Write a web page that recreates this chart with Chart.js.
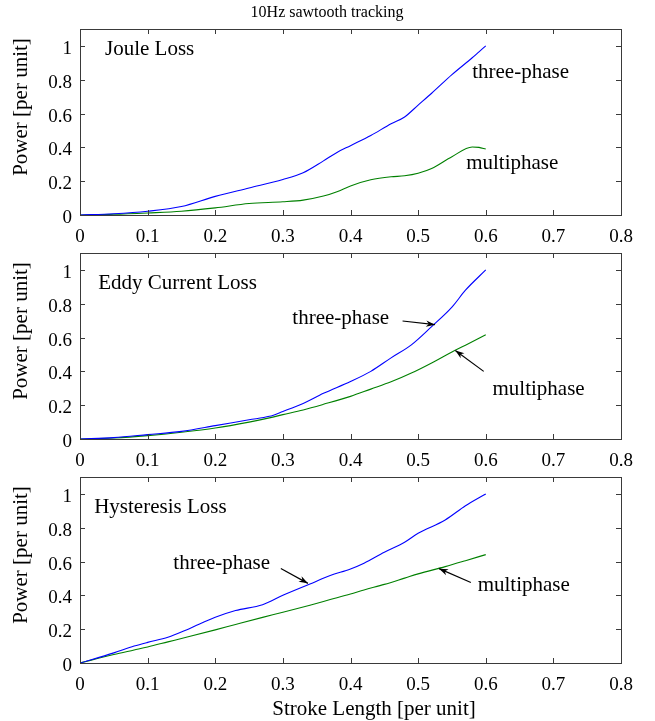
<!DOCTYPE html>
<html><head><meta charset="utf-8">
<script src="https://cdn.jsdelivr.net/npm/chart.js@4.4.1/dist/chart.umd.min.js"></script>
<style>
html,body{margin:0;padding:0;background:#fff;}
#wrap{position:relative;width:655px;height:721px;background:#fff;}
canvas{position:absolute;left:0;top:0;width:655px;height:721px;}
</style></head><body>
<div id="wrap">
<canvas id="c1" width="655" height="721"></canvas>
<canvas id="c2" width="655" height="721"></canvas>
<canvas id="c3" width="655" height="721"></canvas>
</div>
<script>
// ---------- data ----------
const xTicks = [0, 0.1, 0.2, 0.3, 0.4, 0.5, 0.6, 0.7, 0.8];
const yTicks = [0, 0.2, 0.4, 0.6, 0.8, 1];

const jouleX     = [0, 0.05, 0.1, 0.15, 0.2, 0.25, 0.3, 0.33, 0.36, 0.38, 0.4, 0.43, 0.46, 0.48, 0.5, 0.52, 0.55, 0.58, 0.59, 0.6];
const jouleThree = [0, 0.007, 0.022, 0.05, 0.11, 0.16, 0.21, 0.25, 0.32, 0.37, 0.41, 0.47, 0.54, 0.58, 0.65, 0.72, 0.83, 0.93, 0.965, 1.0];
const jouleMulti = [0, 0.004, 0.012, 0.022, 0.042, 0.068, 0.078, 0.088, 0.112, 0.138, 0.172, 0.208, 0.226, 0.232, 0.247, 0.275, 0.345, 0.402, 0.4, 0.39];

const eddyX      = [0, 0.05, 0.1, 0.15, 0.2, 0.25, 0.28, 0.3, 0.33, 0.36, 0.4, 0.43, 0.46, 0.49, 0.52, 0.55, 0.57, 0.6];
const eddyThree  = [0, 0.008, 0.026, 0.045, 0.079, 0.114, 0.134, 0.163, 0.21, 0.27, 0.34, 0.40, 0.48, 0.557, 0.665, 0.78, 0.88, 1.0];
const eddyMulti  = [0, 0.006, 0.02, 0.04, 0.065, 0.1, 0.125, 0.144, 0.172, 0.205, 0.252, 0.295, 0.338, 0.39, 0.45, 0.515, 0.555, 0.616];

const hystX      = [0, 0.05, 0.08, 0.1, 0.13, 0.16, 0.2, 0.23, 0.27, 0.3, 0.34, 0.37, 0.4, 0.42, 0.45, 0.48, 0.5, 0.54, 0.57, 0.6];
const hystThree  = [0, 0.06, 0.10, 0.122, 0.152, 0.20, 0.27, 0.31, 0.345, 0.40, 0.467, 0.517, 0.556, 0.59, 0.655, 0.714, 0.767, 0.846, 0.93, 1.0];
const hystMulti  = [0, 0.05, 0.077, 0.095, 0.125, 0.155, 0.196, 0.228, 0.27, 0.30, 0.342, 0.375, 0.408, 0.432, 0.465, 0.502, 0.527, 0.57, 0.605, 0.641];

const seriesNames = ['three-phase', 'multiphase'];
const panelNames = ['Joule Loss', 'Eddy Current Loss', 'Hysteresis Loss'];
const titleText = '10Hz sawtooth tracking';
const xLabel = 'Stroke Length [per unit]';
const yLabel = 'Power [per unit]';

// ---------- styling / layout ----------
const SERIF = "'Liberation Serif', 'Times New Roman', serif";
const W = 655, H = 721;
const PLOT_LEFT = 80, PLOT_RIGHT = 621;

const panels = [
  { id: 'c1', top: 29,  bottom: 215, x: jouleX, three: jouleThree, multi: jouleMulti, name: panelNames[0], nameAt: [0.037, 0.98],
    notes: [ { text: seriesNames[0], at: [0.58, 0.84] },
             { text: seriesNames[1], at: [0.571, 0.306] } ], title: true },
  { id: 'c2', top: 253, bottom: 439, x: eddyX, three: eddyThree, multi: eddyMulti, name: panelNames[1], nameAt: [0.027, 0.918],
    notes: [ { text: seriesNames[0], at: [0.314, 0.71], from: [0.477, 0.698], to: [0.525, 0.676] },
             { text: seriesNames[1], at: [0.61, 0.29], from: [0.597, 0.4], to: [0.555, 0.524] } ] },
  { id: 'c3', top: 477, bottom: 663, x: hystX, three: hystThree, multi: hystMulti, name: panelNames[2], nameAt: [0.021, 0.918],
    notes: [ { text: seriesNames[0], at: [0.138, 0.588], from: [0.297, 0.559], to: [0.337, 0.471] },
             { text: seriesNames[1], at: [0.588, 0.459], from: [0.578, 0.476], to: [0.531, 0.558] } ], xlabel: true }
];

function arrow(ctx, x1, y1, x2, y2) {
  ctx.beginPath(); ctx.moveTo(x1, y1); ctx.lineTo(x2, y2); ctx.stroke();
  const ang = Math.atan2(y2 - y1, x2 - x1), L = 9, Wd = 3.2;
  ctx.beginPath();
  ctx.moveTo(x2, y2);
  ctx.lineTo(x2 - L * Math.cos(ang) + Wd * Math.sin(ang), y2 - L * Math.sin(ang) - Wd * Math.cos(ang));
  ctx.lineTo(x2 - L * 0.7 * Math.cos(ang), y2 - L * 0.7 * Math.sin(ang));
  ctx.lineTo(x2 - L * Math.cos(ang) - Wd * Math.sin(ang), y2 - L * Math.sin(ang) + Wd * Math.cos(ang));
  ctx.closePath(); ctx.fill();
}

const framePlugin = {
  id: 'frame',
  afterDatasetsDraw(chart, args, o) {
    const p = o.panel; if (!p) return;
    const { ctx, chartArea: a, scales: { x, y } } = chart;
    ctx.save();
    ctx.strokeStyle = '#3a3a3a'; ctx.lineWidth = 1;
    ctx.strokeRect(Math.round(a.left) + 0.5, Math.round(a.top) + 0.5, Math.round(a.right - a.left), Math.round(a.bottom - a.top));
    const TL = 5;
    ctx.beginPath();
    x.ticks.forEach(t => {
      const px = Math.round(x.getPixelForValue(t.value)) + 0.5;
      ctx.moveTo(px, a.bottom); ctx.lineTo(px, a.bottom - TL);
      ctx.moveTo(px, a.top); ctx.lineTo(px, a.top + TL);
    });
    y.ticks.forEach(t => {
      const py = Math.round(y.getPixelForValue(t.value)) + 0.5;
      ctx.moveTo(a.left, py); ctx.lineTo(a.left + TL, py);
      ctx.moveTo(a.right, py); ctx.lineTo(a.right - TL, py);
    });
    ctx.stroke();

    ctx.fillStyle = '#000'; ctx.strokeStyle = '#000';
    ctx.textBaseline = 'middle'; ctx.textAlign = 'left';
    ctx.font = '21px ' + SERIF;
    ctx.fillText(p.name, x.getPixelForValue(p.nameAt[0]), y.getPixelForValue(p.nameAt[1]));
    p.notes.forEach(n => {
      ctx.fillText(n.text, x.getPixelForValue(n.at[0]), y.getPixelForValue(n.at[1]));
      if (n.from) {
        ctx.lineWidth = 1.2;
        arrow(ctx, x.getPixelForValue(n.from[0]), y.getPixelForValue(n.from[1]),
                   x.getPixelForValue(n.to[0]), y.getPixelForValue(n.to[1]));
      }
    });
    // axis titles
    ctx.save();
    ctx.translate(21, (a.top + a.bottom) / 2 - 15);
    ctx.rotate(-Math.PI / 2);
    ctx.textAlign = 'center';
    ctx.font = '21px ' + SERIF;
    ctx.fillText(yLabel, 0, 0);
    ctx.restore();
    if (p.title) {
      ctx.textAlign = 'center'; ctx.font = '16px ' + SERIF;
      ctx.fillText(titleText, 327, 13);
    }
    if (p.xlabel) {
      ctx.textAlign = 'center'; ctx.font = '21px ' + SERIF;
      ctx.fillText(xLabel, 374, 709);
    }
    ctx.restore();
  }
};

panels.forEach(p => {
  const toPts = ys => p.x.map((xv, i) => ({ x: xv, y: ys[i] }));
  new Chart(document.getElementById(p.id), {
    type: 'line',
    data: {
      datasets: [
        { label: seriesNames[0], data: toPts(p.three), borderColor: '#0000ff', borderWidth: 1.1, pointRadius: 0, tension: 0.3, cubicInterpolationMode: 'monotone', fill: false },
        { label: seriesNames[1], data: toPts(p.multi), borderColor: '#008000', borderWidth: 1.1, pointRadius: 0, tension: 0.3, cubicInterpolationMode: 'monotone', fill: false }
      ]
    },
    options: {
      responsive: false, animation: false, devicePixelRatio: 1,
      layout: { padding: { left: 0, right: W - PLOT_RIGHT, top: p.top, bottom: H - p.bottom - 40 } },
      plugins: { legend: { display: false }, tooltip: { enabled: false }, title: { display: false }, frame: { panel: p } },
      scales: {
        x: {
          type: 'linear', min: 0, max: 0.8,
          afterBuildTicks: s => { s.ticks = xTicks.map(v => ({ value: v })); },
          afterFit: s => { s.height = 40; },
          grid: { display: false, drawTicks: false }, border: { display: false },
          ticks: { color: '#000', font: { family: SERIF, size: 19 }, padding: 11, maxRotation: 0, autoSkip: false,
                   callback: v => String(v) }
        },
        y: {
          type: 'linear', min: 0, max: 1.1,
          afterBuildTicks: s => { s.ticks = yTicks.map(v => ({ value: v })); },
          afterFit: s => { s.width = PLOT_LEFT; },
          grid: { display: false, drawTicks: false }, border: { display: false },
          ticks: { color: '#000', font: { family: SERIF, size: 19 }, padding: 8, labelOffset: 3, autoSkip: false,
                   callback: v => String(v) }
        }
      }
    },
    plugins: [framePlugin]
  });
});
</script>
</body></html>
